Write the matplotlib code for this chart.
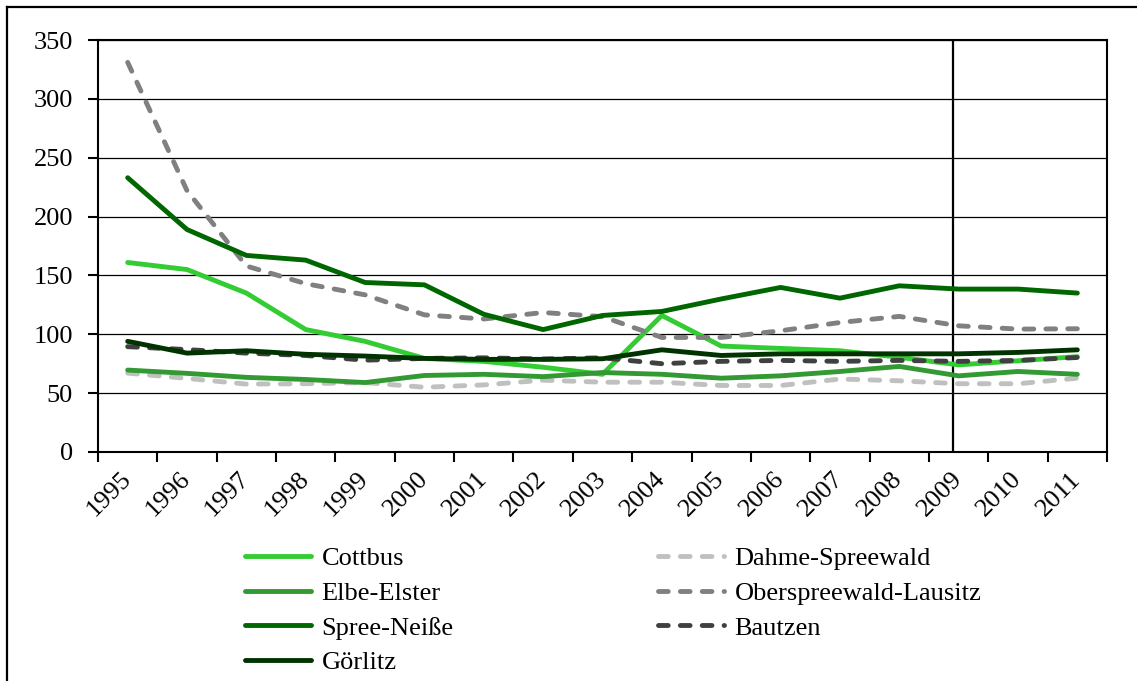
import matplotlib
matplotlib.use("Agg")
import matplotlib.pyplot as plt
from matplotlib.lines import Line2D

years = [str(y) for y in range(1995, 2012)]

cottbus = [161, 155, 135, 104, 94, 79.5, 77, 72, 66, 116, 90, 88, 86, 80.5, 74, 77.5, 81]
dahme = [67, 62.5, 57.7, 58, 59, 55, 57, 61, 59.3, 59.3, 56.5, 56.5, 62, 60.5, 58, 58, 62.7]
elbe = [69.6, 66.8, 63.4, 61.6, 59, 65, 66, 64, 67.5, 66, 62.7, 64.7, 68.4, 72.7, 64.7, 68.4, 66]
ober = [331, 222, 158, 143, 133.5, 116.5, 113, 118.5, 115, 97.3, 97.3, 103, 110, 115.2, 107.2, 104.4, 104.7]
spree = [233, 189, 167, 163, 144, 142, 117, 104, 116, 119.4, 130, 139.8, 130.7, 141.2, 138.4, 138.4, 135]
bautzen = [89.5, 87, 84, 82, 78, 79.5, 80, 79, 80, 75, 77, 77.8, 77, 77.8, 77, 77.8, 80.3]
goerlitz = [94, 84, 86, 83, 81.5, 79.5, 78.7, 78.7, 79.2, 86.8, 82, 83.4, 83.4, 83.4, 83.4, 84.6, 86.8]

names = ["Cottbus", "Dahme-Spreewald", "Elbe-Elster", "Oberspreewald-Lausitz",
         "Spree-Neiße", "Bautzen", "Görlitz"]
series = [cottbus, dahme, elbe, ober, spree, bautzen, goerlitz]
colors = ["#33CC33", "#C0C0C0", "#339933", "#808080", "#006600", "#404040", "#003300"]
dashed = [False, True, False, True, False, True, False]
legend_order = ["Cottbus", "Elbe-Elster", "Spree-Neiße", "Görlitz",
                "Dahme-Spreewald", "Oberspreewald-Lausitz", "Bautzen"]
y_ticks = [0, 50, 100, 150, 200, 250, 300, 350]
marker_year = "2009"

plt.rcParams['font.family'] = ['Liberation Serif', 'DejaVu Serif']

W, H = 1137, 681
FS = 19
fig = plt.figure(figsize=(W / 100, H / 100), dpi=100)
ax = fig.add_axes([98 / W, 1 - 452 / H, (1107 - 98) / W, (452 - 40) / H])

x = list(range(len(years)))
handles = {}
lw = 3.5
for name, vals, c, d in zip(names, series, colors, dashed):
    if d:
        ln, = ax.plot(x, vals, color=c, lw=lw, linestyle=(0, (2.0, 2.5)),
                      dash_capstyle='round', solid_capstyle='round', label=name)
    else:
        ln, = ax.plot(x, vals, color=c, lw=lw, solid_capstyle='round',
                      solid_joinstyle='round', label=name)
    handles[name] = ln

ax.set_xlim(-0.5, len(years) - 0.5)
ax.set_ylim(0, 350)
ax.set_yticks(y_ticks)
ax.set_yticklabels([str(v) for v in y_ticks], fontsize=FS)
ax.yaxis.grid(True, color='black', lw=0.9)
ax.set_axisbelow(True)

ax.set_xticks([i - 0.5 for i in range(len(years) + 1)], minor=True)
ax.set_xticks(x)
ax.set_xticklabels(years, fontsize=FS, rotation=45, ha='right', va='center',
                   rotation_mode='anchor')
ax.tick_params(axis='x', which='major', length=0, pad=17)
ax.tick_params(axis='x', which='minor', length=7, width=1.5, direction='out')
ax.tick_params(axis='y', length=7, width=1.5, direction='out', pad=11)

for s in ax.spines.values():
    s.set_color('black')
    s.set_linewidth(1.5)

# vertical reference line (slightly left of the 2009 category centre)
ax.axvline(years.index(marker_year) - 0.1, color='black', lw=1.6, zorder=1)

# outer frame lines (left and top)
fig.add_artist(Line2D([7 / W, 7 / W], [0, 1 - 7 / H], color='black', lw=1.6,
                      transform=fig.transFigure))
fig.add_artist(Line2D([7 / W, 1], [1 - 7 / H, 1 - 7 / H], color='black', lw=1.6,
                      transform=fig.transFigure))

leg = fig.legend([handles[n] for n in legend_order], legend_order, ncol=2,
                 loc='upper left', bbox_to_anchor=(245 / W, 1 - 547 / H),
                 frameon=False, fontsize=FS, handlelength=2.5, handletextpad=0.4,
                 columnspacing=7.75, labelspacing=0.42, borderpad=0, borderaxespad=0)

fig.savefig("out.png", dpi=100)
